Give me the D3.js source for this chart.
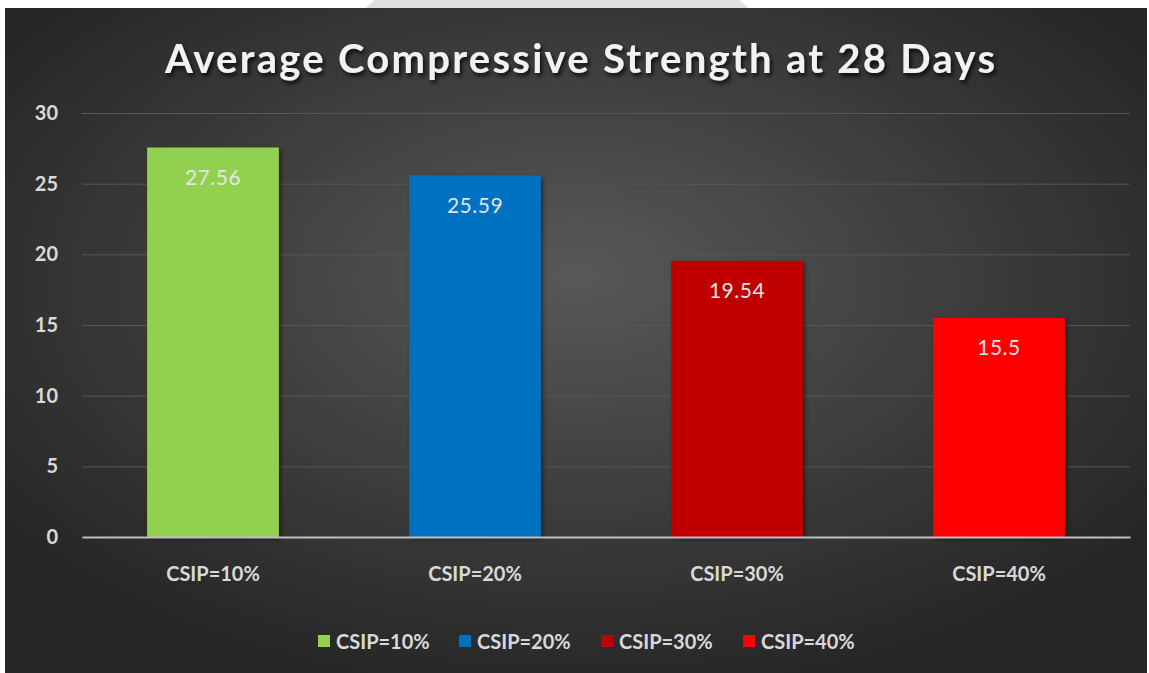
<!DOCTYPE html>
<html><head><meta charset="utf-8">
<script src="https://cdn.jsdelivr.net/npm/d3@7"></script>
<style>html,body{margin:0;padding:0;background:#fff;}svg{display:block;}</style>
</head><body>
<svg id="chart" width="1149" height="673"></svg>
<script>
const title = "Average Compressive Strength at 28 Days";
const categories = ["CSIP=10%", "CSIP=20%", "CSIP=30%", "CSIP=40%"];
const values = [27.56, 25.59, 19.54, 15.5];
const valueLabels = ["27.56", "25.59", "19.54", "15.5"];
const colors = ["#92d050", "#0070c0", "#c00000", "#ff0000"];
const yTicks = [0, 5, 10, 15, 20, 25, 30];

const svg = d3.select("#chart");
const defs = svg.append("defs");
const rg = defs.append("radialGradient").attr("id", "bg")
  .attr("cx", "50%").attr("cy", "42%").attr("r", "62%").attr("fx","50%").attr("fy","40%");
rg.append("stop").attr("offset", "0%").attr("stop-color", "#585858");
rg.append("stop").attr("offset", "100%").attr("stop-color", "#262626");
const sh = defs.append("filter").attr("id","tshadow").attr("x","-10%").attr("y","-30%").attr("width","120%").attr("height","160%");
sh.append("feDropShadow").attr("dx",2).attr("dy",3).attr("stdDeviation",2).attr("flood-color","#000").attr("flood-opacity",0.8);
const bs = defs.append("filter").attr("id","bshadow").attr("x","-10%").attr("y","-10%").attr("width","130%").attr("height","130%");
bs.append("feDropShadow").attr("dx",2).attr("dy",2).attr("stdDeviation",2).attr("flood-color","#000").attr("flood-opacity",0.5);

svg.append("circle").attr("cx", 557).attr("cy", 215).attr("r", 282).attr("fill", "#e0e0e0");
svg.append("rect").attr("x", 5).attr("y", 8).attr("width", 1142).attr("height", 665).attr("fill", "url(#bg)");

const m = {left: 82, right: 1130, top: 113, bottom: 537};
const x = d3.scaleBand().domain(categories).range([m.left, m.right]).paddingInner(0.497).paddingOuter(0.2485);
const y = d3.scaleLinear().domain([0, 30]).range([m.bottom, m.top]);

const font = "Lato, 'Open Sans', sans-serif";

const yAxis = d3.axisLeft(y).tickValues(yTicks).tickSize(-(m.right - m.left)).tickPadding(24).tickFormat(d3.format("d"));
const gy = svg.append("g").attr("transform", `translate(${m.left},0)`).call(yAxis);
gy.select(".domain").remove();
gy.selectAll(".tick line").attr("stroke", "#575757").attr("stroke-width", 1);
gy.selectAll(".tick text").attr("fill", "#d9d9d9").attr("font-family", font).attr("font-weight", "bold").attr("font-size", 20);

svg.append("g").selectAll("rect").data(values).join("rect")
  .attr("x", (d, i) => x(categories[i]))
  .attr("y", d => y(d))
  .attr("width", x.bandwidth())
  .attr("height", d => y(0) - y(d))
  .attr("fill", (d, i) => colors[i])
  .attr("filter", "url(#bshadow)");

svg.append("g").selectAll("text").data(values).join("text")
  .attr("x", (d, i) => x(categories[i]) + x.bandwidth() / 2)
  .attr("y", d => y(d) + 29)
  .attr("text-anchor", "middle").attr("dominant-baseline", "central")
  .attr("fill", "#e4e4e4").attr("font-family", font).attr("font-size", 21)
  .attr("letter-spacing", 0.5)
  .text((d, i) => valueLabels[i]);

const xAxis = d3.axisBottom(x).tickSize(0).tickPadding(30);
const gx = svg.append("g").attr("transform", `translate(0,${m.bottom})`).call(xAxis);
gx.select(".domain").attr("stroke", "#bfbfbf").attr("stroke-width", 2);
gx.selectAll(".tick text").attr("fill", "#d9d9d9").attr("font-family", font).attr("font-weight", "bold").attr("font-size", 20);

svg.append("text").attr("x", 580).attr("y", 58)
  .attr("text-anchor", "middle").attr("dominant-baseline", "central")
  .attr("fill", "#f2f2f2").attr("font-family", font).attr("font-weight", "bold").attr("font-size", 40)
  .attr("textLength", 830).attr("lengthAdjust", "spacing")
  .attr("filter", "url(#tshadow)")
  .text(title);

const legendX = [318, 459, 601, 743];
const lg = svg.append("g").selectAll("g").data(categories).join("g")
  .attr("transform", (d, i) => `translate(${legendX[i]},641)`);
lg.append("rect").attr("x", 0).attr("y", -6).attr("width", 12).attr("height", 12).attr("fill", (d, i) => colors[i]);
lg.append("text").attr("x", 18).attr("y", 0).attr("dominant-baseline", "central")
  .attr("fill", "#d9d9d9").attr("font-family", font).attr("font-weight", "bold").attr("font-size", 20)
  .text(d => d);
</script>
</body></html>
